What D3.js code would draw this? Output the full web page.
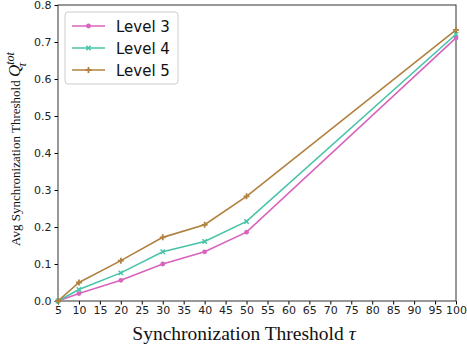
<!DOCTYPE html>
<html lang="en">
<head>
<meta charset="UTF-8">
<title>Avg Synchronization Threshold</title>
<style>
  body { margin: 0; background: #fff; }
  svg { display: block; }
  .tick text { font-family: "DejaVu Sans", sans-serif; font-size: 11px; fill: #222; }
</style>
</head>
<body>
<div id="chart"></div>
<script src="https://d3js.org/d3.v7.min.js"></script>
<script>
const width = 467, height = 349;
const margin = { top: 5, right: 11, bottom: 48, left: 58 };

const thresholds = [5, 10, 20, 30, 40, 50, 100];
const level3 = [0, 0.020, 0.056, 0.100, 0.133, 0.186, 0.711];
const level4 = [0, 0.031, 0.076, 0.133, 0.161, 0.215, 0.721];
const level5 = [0, 0.050, 0.109, 0.172, 0.206, 0.283, 0.733];
const xTicks = d3.range(5, 101, 5);
const yTicks = [0, 0.1, 0.2, 0.3, 0.4, 0.5, 0.6, 0.7, 0.8];

const series = [
  { name: "Level 3", values: level3, color: "#d963bd", marker: "dot" },
  { name: "Level 4", values: level4, color: "#47c4a7", marker: "x" },
  { name: "Level 5", values: level5, color: "#b1813f", marker: "plus" }
];

const svg = d3.select("#chart").append("svg")
  .attr("width", width).attr("height", height);

const x = d3.scaleLinear().domain([5, 100]).range([margin.left, width - margin.right]);
const y = d3.scaleLinear().domain([0, 0.8]).range([height - margin.bottom, margin.top]);

// axes
svg.append("g")
  .attr("transform", `translate(0,${height - margin.bottom})`)
  .call(d3.axisBottom(x).tickValues(xTicks).tickSize(3.5).tickPadding(2).tickFormat(d3.format("d")))
  .call(g => g.select(".domain").remove());
svg.append("g")
  .attr("transform", `translate(${margin.left},0)`)
  .call(d3.axisLeft(y).tickValues(yTicks).tickSize(3.5).tickPadding(3).tickFormat(d3.format(".1f")))
  .call(g => g.select(".domain").remove());

// frame
svg.append("rect")
  .attr("x", margin.left).attr("y", margin.top)
  .attr("width", width - margin.left - margin.right)
  .attr("height", height - margin.top - margin.bottom)
  .attr("fill", "none").attr("stroke", "#333").attr("stroke-width", 1);

const line = d3.line().x((d, i) => x(thresholds[i])).y(d => y(d));

function drawMarker(g, type, cx, cy, color) {
  if (type === "dot") {
    g.append("circle").attr("cx", cx).attr("cy", cy).attr("r", 2.4).attr("fill", color);
  } else if (type === "x") {
    const s = 2.2;
    g.append("path").attr("d", `M${cx - s},${cy - s}L${cx + s},${cy + s}M${cx - s},${cy + s}L${cx + s},${cy - s}`)
      .attr("stroke", color).attr("stroke-width", 1.5);
  } else {
    const s = 3;
    g.append("path").attr("d", `M${cx - s},${cy}L${cx + s},${cy}M${cx},${cy - s}L${cx},${cy + s}`)
      .attr("stroke", color).attr("stroke-width", 1.8);
  }
}

series.forEach(s => {
  const g = svg.append("g");
  g.append("path").datum(s.values)
    .attr("d", line).attr("fill", "none")
    .attr("stroke", s.color).attr("stroke-width", 1.6);
  s.values.forEach((v, i) => drawMarker(g, s.marker, x(thresholds[i]), y(v), s.color));
});

// legend
const lg = svg.append("g").attr("transform", "translate(65,12)");
lg.append("rect").attr("width", 113).attr("height", 72).attr("rx", 3)
  .attr("fill", "#fff").attr("stroke", "#ccc");
series.forEach((s, i) => {
  const yy = 14 + i * 22;
  lg.append("line").attr("x1", 7).attr("x2", 40).attr("y1", yy).attr("y2", yy)
    .attr("stroke", s.color).attr("stroke-width", 1.6);
  drawMarker(lg, s.marker, 23.5, yy, s.color);
  lg.append("text").attr("x", 51).attr("y", yy + 5.5)
    .attr("font-family", "DejaVu Sans, sans-serif").attr("font-size", 15).attr("fill", "#111")
    .text(s.name);
});

// axis labels
svg.append("text")
  .attr("x", 244).attr("y", 340)
  .attr("text-anchor", "middle")
  .attr("font-family", "Liberation Serif, serif").attr("font-size", 19.5).attr("fill", "#111")
  .html('Synchronization Threshold <tspan font-style="italic">τ</tspan>');

const yl = svg.append("text")
  .attr("transform", `translate(20,${(margin.top + height - margin.bottom) / 2 - 4}) rotate(-90)`)
  .attr("text-anchor", "middle")
  .attr("font-family", "Liberation Serif, serif").attr("font-size", 13).attr("fill", "#111");
yl.append("tspan").text("Avg Synchronization Threshold ");
yl.append("tspan").attr("font-style", "italic").attr("font-size", 17).text("Q");
yl.append("tspan").attr("font-style", "italic").attr("font-size", 12).attr("dy", -6).text("tot");
yl.append("tspan").attr("font-style", "italic").attr("font-size", 12).attr("dx", -15).attr("dy", 12).text("τ");
</script>
</body>
</html>
